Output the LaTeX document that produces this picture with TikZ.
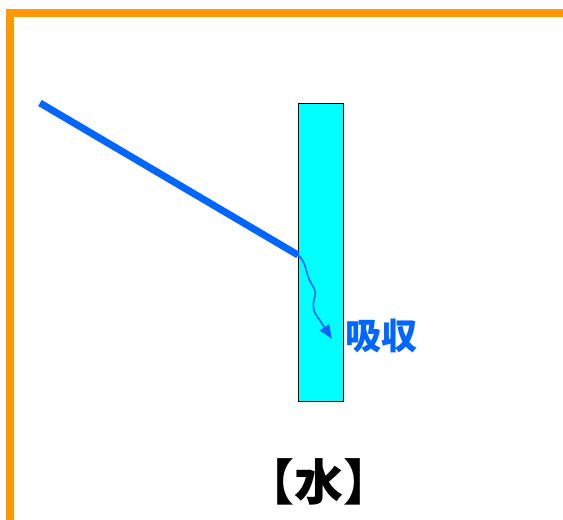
\documentclass[tikz,border=0pt]{standalone}
\usepackage{fontspec}
\newfontfamily\cjk{Noto Sans CJK JP}
\usetikzlibrary{arrows.meta}
\definecolor{frameorange}{HTML}{FF9900}
\definecolor{rayblue}{HTML}{0066FF}
\definecolor{slabcyan}{HTML}{00FFFF}
\tikzset{
  framestyle/.style={draw=frameorange,line width=8pt},
  raystyle/.style={draw=rayblue,line width=7pt},
  slabstyle/.style={draw=black,fill=slabcyan,line width=1pt},
  wavestyle/.style={draw=rayblue,line width=1.6pt,-{Triangle[length=14pt,width=11pt]}},
  bluelabel/.style={text=rayblue,font=\cjk\bfseries\fontsize{36}{40}\selectfont,inner sep=0pt},
  blacklabel/.style={text=black,font=\cjk\bfseries\fontsize{49}{54}\selectfont,inner sep=0pt}
}
\begin{document}
\begin{tikzpicture}[x=1pt,y=-1pt]
\useasboundingbox (0,0) rectangle (563,520);
\draw[framestyle] (10,520) -- (10,12.5) -- (563,12.5);
\node[slabstyle,minimum width=45pt,minimum height=298pt,anchor=north west,inner sep=0pt] (slab) at (298,103) {};
\coordinate (start) at (40,103);
\coordinate (hit) at (298,255);
\coordinate (tip) at (332,339);
\draw[raystyle] (start) -- (hit);
\draw[wavestyle] (hit) .. controls (306,262) and (306,272) .. (309,279)
  .. controls (312,286) and (317,290) .. (315,296)
  .. controls (312,305) and (313,312) .. (319,319) -- (tip);
\node[bluelabel] (absorb) at (381,336) {吸収};
\node[blacklabel] (water) at (319,482) {【水】};
\end{tikzpicture}
\end{document}
